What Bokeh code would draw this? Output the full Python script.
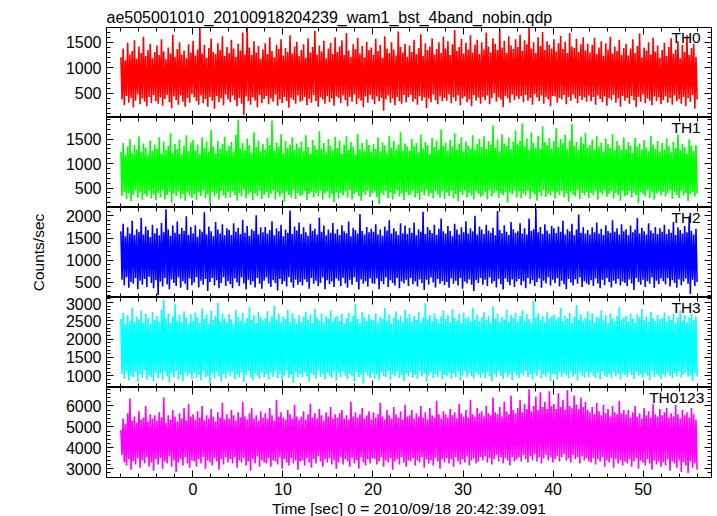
import numpy as np
from bokeh.plotting import figure
from bokeh.models import LinearAxis, Label, SingleIntervalTicker, Range1d
from bokeh.layouts import column
from bokeh.embed import file_html
from bokeh.resources import INLINE

TITLE = "ae505001010_20100918204239_wam1_bst_4band_nobin.qdp"
XLABEL = "Time [sec] 0 = 2010/09/18 20:42:39.091"
YLABEL = "Counts/sec"
T_START, T_END = -8.0, 56.0
X_RANGE = (-9.6, 57.6)

bands = ["TH0", "TH1", "TH2", "TH3", "TH0123"]
colors = ["#ff0000", "#00ff00", "#0000ff", "#00ffff", "#ff00ff"]
y_ranges = [(30, 1790), (104, 1941), (162, 2187), (680, 3137), (2582, 6880)]
y_major = [500, 500, 500, 500, 1000]
y_minor = [5, 5, 5, 5, 5]

# Each 0.25 s step of the light curve is read off the picture as the peak
# and the trough that the curve reaches inside it.
th0_hi = [
    1210, 1380, 1150, 1490, 1260, 1330, 1540, 1180, 1420, 1290, 1610, 1230, 1350, 1470, 1190, 1310,
    1440, 1250, 1560, 1320, 1170, 1400, 1280, 1650, 1220, 1370, 1500, 1260, 1340, 1190, 1460, 1300,
    1530, 1240, 1360, 1780, 1280, 1450, 1200, 1390, 1570, 1310, 1270, 1480, 1350, 1620, 1230, 1410,
    1290, 1550, 1380, 1220, 1470, 1340, 1690, 1260, 1780, 1400, 1250, 1520, 1300, 1430, 1180, 1360,
    1480, 1270, 1600, 1330, 1210, 1450, 1370, 1560, 1240, 1390, 1310, 1640, 1280, 1420, 1510, 1230,
    1350, 1460, 1200, 1580, 1300, 1410, 1720, 1260, 1440, 1320, 1530, 1190, 1380, 1490, 1270, 1600,
    1310, 1420, 1540, 1250, 1680, 1340, 1220, 1460, 1370, 1590, 1280, 1430, 1210, 1510, 1350, 1400,
    1260, 1570, 1330, 1450, 1200, 1620, 1380, 1290, 1500, 1360, 1240, 1710, 1410, 1300, 1470, 1220,
    1440, 1310, 1550, 1270, 1390, 1660, 1230, 1480, 1350, 1420, 1580, 1260, 1370, 1500, 1290, 1610,
    1380, 1520, 1250, 1460, 1740, 1330, 1410, 1570, 1280, 1490, 1360, 1640, 1300, 1450, 1550, 1270,
    1500, 1360, 1690, 1420, 1300, 1580, 1470, 1350, 1760, 1400, 1530, 1290, 1620, 1440, 1370, 1560,
    1410, 1650, 1330, 1540, 1460, 1780, 1380, 1500, 1290, 1600, 1430, 1700, 1350, 1520, 1450, 1380,
    1560, 1320, 1480, 1630, 1370, 1510, 1290, 1680, 1420, 1390, 1570, 1310, 1460, 1600, 1340, 1470,
    1300, 1450, 1590, 1270, 1400, 1520, 1230, 1480, 1360, 1610, 1280, 1420, 1330, 1550, 1250, 1390,
    1470, 1240, 1380, 1560, 1290, 1430, 1670, 1210, 1400, 1340, 1500, 1260, 1590, 1320, 1440, 1200,
    1350, 1490, 1230, 1410, 1580, 1280, 1360, 1520, 1190, 1450, 1310, 1640, 1250, 1390, 1470, 1220,
]
th0_lo = [
    380, 270, 450, 320, 410, 230, 360, 480, 290, 400, 340, 250, 430, 310, 470, 350,
    300, 420, 260, 390, 470, 330, 210, 440, 370, 280, 460, 340, 240, 410, 320, 490,
    420, 350, 280, 460, 310, 390, 240, 430, 360, 200, 450, 330, 400, 270, 480, 380,
    330, 460, 370, 250, 410, 300, 80, 440, 350, 280, 420, 360, 230, 470, 310, 390,
    450, 290, 400, 340, 480, 260, 380, 310, 430, 350, 220, 410, 370, 300, 460, 340,
    360, 430, 270, 390, 320, 470, 350, 240, 420, 380, 300, 450, 330, 400, 260, 440,
    410, 310, 460, 370, 250, 430, 340, 480, 290, 400, 360, 230, 440, 320, 470, 380,
    290, 440, 350, 410, 160, 380, 460, 320, 400, 270, 430, 350, 300, 470, 330, 420,
    470, 340, 390, 280, 450, 360, 420, 210, 400, 330, 480, 370, 290, 440, 350, 410,
    360, 480, 310, 420, 350, 460, 270, 400, 440, 330, 380, 250, 470, 360, 420, 300,
    430, 370, 460, 290, 410, 500, 340, 420, 380, 230, 450, 400, 320, 480, 370, 440,
    390, 450, 330, 470, 360, 410, 280, 490, 420, 350, 460, 300, 430, 380, 250, 450,
    440, 320, 410, 380, 470, 290, 430, 360, 480, 400, 310, 450, 370, 420, 340, 460,
    350, 430, 280, 460, 390, 330, 440, 260, 410, 370, 470, 320, 400, 240, 450, 360,
    410, 300, 450, 370, 230, 430, 340, 480, 310, 400, 360, 270, 440, 350, 420, 290,
    370, 440, 320, 410, 280, 460, 350, 390, 300, 430, 250, 410, 340, 470, 200, 380,
]
th1_hi = [
    1240, 1420, 1170, 1350, 1500, 1210, 1380, 1290, 1560, 1230, 1410, 1330, 1180, 1470, 1260, 1390,
    1310, 1540, 1200, 1450, 1280, 1360, 1620, 1220, 1400, 1300, 1490, 1190, 1370, 1580, 1250, 1430,
    1480, 1270, 1390, 1200, 1530, 1320, 1450, 1240, 1690, 1350, 1210, 1460, 1300, 1400, 1550, 1260,
    1360, 1440, 1230, 1590, 1900, 1310, 1420, 1270, 1510, 1380, 1220, 1640, 1340, 1470, 1250, 1400,
    1290, 1520, 1380, 1880, 1260, 1430, 1350, 1600, 1210, 1460, 1320, 1390, 1540, 1280, 1410, 1330,
    1450, 1250, 1580, 1340, 1200, 1480, 1370, 1290, 1660, 1310, 1420, 1230, 1500, 1360, 1270, 1550,
    1320, 1470, 1210, 1390, 1560, 1280, 1440, 1350, 1190, 1610, 1300, 1420, 1260, 1490, 1380, 1240,
    1400, 1300, 1530, 1250, 1430, 1370, 1220, 1570, 1330, 1460, 1280, 1390, 1640, 1260, 1410, 1350,
    1270, 1500, 1360, 1420, 1230, 1590, 1310, 1440, 1380, 1200, 1520, 1340, 1470, 1290, 1700, 1370,
    1430, 1260, 1480, 1350, 1620, 1290, 1410, 1540, 1240, 1450, 1370, 1310, 1580, 1280, 1400, 1500,
    1340, 1560, 1300, 1460, 1390, 1780, 1320, 1490, 1250, 1600, 1410, 1360, 1530, 1290, 1450, 1680,
    1390, 1470, 1820, 1350, 1510, 1280, 1640, 1420, 1330, 1570, 1300, 1760, 1440, 1380, 1520, 1310,
    1460, 1720, 1340, 1500, 1420, 1590, 1300, 1470, 1810, 1360, 1440, 1270, 1550, 1410, 1630, 1330,
    1380, 1490, 1280, 1560, 1350, 1430, 1240, 1510, 1400, 1320, 1600, 1270, 1460, 1370, 1290, 1540,
    1300, 1440, 1370, 1220, 1520, 1350, 1410, 1280, 1480, 1330, 1250, 1570, 1390, 1310, 1460, 1240,
    1420, 1290, 1510, 1360, 1230, 1450, 1320, 1600, 1280, 1400, 1340, 1210, 1490, 1370, 1260, 1380,
]
th1_lo = [
    340, 420, 280, 390, 230, 360, 450, 300, 410, 260, 380, 330, 440, 290, 370, 250,
    400, 310, 450, 270, 360, 420, 200, 390, 340, 430, 290, 380, 240, 410, 350, 300,
    380, 260, 410, 340, 450, 290, 370, 180, 420, 330, 390, 270, 440, 350, 300, 420,
    310, 430, 360, 240, 400, 330, 460, 290, 370, 410, 250, 390, 340, 440, 280, 360,
    420, 300, 380, 450, 270, 410, 330, 390, 220, 430, 360, 310, 450, 280, 400, 340,
    360, 440, 250, 380, 420, 310, 400, 340, 450, 260, 390, 430, 300, 370, 210, 410,
    290, 400, 350, 430, 310, 460, 270, 380, 420, 340, 240, 410, 360, 440, 320, 390,
    430, 320, 170, 400, 360, 440, 300, 410, 270, 380, 450, 330, 390, 250, 420, 350,
    370, 450, 310, 390, 260, 420, 350, 460, 330, 400, 290, 440, 370, 310, 430, 280,
    410, 340, 440, 290, 380, 230, 420, 360, 450, 310, 400, 350, 270, 430, 380, 320,
    350, 420, 270, 460, 330, 400, 440, 300, 390, 350, 420, 200, 410, 370, 450, 310,
    430, 300, 390, 350, 440, 280, 410, 370, 240, 420, 340, 460, 320, 390, 350, 430,
    290, 410, 360, 440, 310, 390, 220, 430, 370, 330, 460, 280, 400, 350, 420, 300,
    400, 350, 430, 260, 410, 370, 450, 320, 380, 430, 290, 400, 360, 240, 440, 330,
    360, 440, 310, 400, 350, 190, 420, 380, 330, 450, 300, 410, 260, 390, 430, 350,
    420, 330, 390, 450, 280, 410, 360, 300, 440, 350, 400, 230, 380, 420, 330, 390,
]
th2_hi = [
    1650, 1820, 1540, 1740, 1600, 1890, 1570, 1700, 1640, 1950, 1580, 1760, 1680, 1520, 1800, 1610,
    1720, 1560, 1840, 1630, 2150, 1690, 1550, 1780, 1620, 1870, 1590, 1730, 1660, 1990, 1570, 1750,
    1610, 1790, 1530, 1700, 1640, 2080, 1580, 1760, 1650, 1540, 1860, 1690, 1600, 1810, 1560, 1720,
    1680, 1570, 1830, 1640, 1730, 1590, 1910, 1620, 1770, 1550, 1700, 1660, 2010, 1580, 1740, 1630,
    1750, 1600, 1680, 1880, 1560, 1720, 1650, 1800, 1540, 1690, 1620, 2120, 1590, 1760, 1670, 1850,
    1590, 1740, 1630, 1550, 1820, 1660, 1710, 1580, 1960, 1640, 1780, 1560, 1690, 1620, 1840, 1600,
    1700, 1570, 1790, 1650, 1610, 1870, 1540, 1730, 1680, 1600, 2040, 1660, 1580, 1750, 1630, 1710,
    1640, 1810, 1580, 1690, 1550, 1760, 1670, 1900, 1600, 1720, 1650, 1570, 1830, 1610, 1780, 1590,
    1730, 1620, 1850, 1560, 1700, 1640, 2090, 1590, 1750, 1680, 1610, 1800, 1570, 1710, 1940, 1650,
    1600, 1770, 1660, 1540, 1820, 1690, 1580, 1740, 1630, 1880, 1600, 1720, 1650, 2000, 1580, 1760,
    1690, 1590, 1800, 1670, 1620, 1730, 1560, 2110, 1680, 1610, 1790, 1640, 1570, 1860, 1700, 1620,
    1650, 1830, 1600, 1720, 1580, 1940, 1660, 1700, 2160, 1630, 1750, 1590, 1810, 1670, 1600, 1770,
    1720, 1610, 1760, 1640, 1890, 1580, 1700, 1650, 1820, 1560, 1690, 2030, 1620, 1740, 1600, 1680,
    1580, 1740, 1630, 1850, 1600, 1710, 1570, 1790, 1660, 1620, 1900, 1640, 1720, 1580, 1810, 1650,
    1700, 1560, 1780, 1630, 1690, 1950, 1600, 1730, 1650, 1580, 1830, 1670, 1610, 1750, 1590, 1720,
    1640, 1800, 1590, 1700, 1620, 1860, 1570, 1740, 1680, 1600, 1770, 1630, 1990, 1660, 1580, 1710,
]
th2_lo = [
    560, 430, 620, 380, 510, 470, 600, 350, 540, 450, 580, 400, 630, 490, 370, 550,
    220, 520, 410, 600, 460, 350, 570, 490, 420, 610, 380, 530, 470, 330, 590, 440,
    500, 620, 390, 540, 450, 580, 310, 510, 600, 430, 550, 370, 490, 620, 420, 530,
    460, 370, 590, 500, 420, 610, 480, 340, 560, 450, 520, 390, 600, 470, 360, 540,
    610, 480, 400, 550, 490, 320, 580, 460, 530, 410, 620, 500, 380, 560, 450, 510,
    430, 570, 510, 360, 600, 470, 540, 420, 490, 610, 350, 550, 460, 520, 400, 590,
    540, 420, 600, 480, 380, 560, 450, 620, 510, 340, 570, 470, 530, 410, 590, 480,
    470, 590, 350, 530, 460, 610, 400, 550, 490, 430, 600, 370, 520, 480, 560, 420,
    600, 460, 520, 410, 570, 490, 330, 560, 450, 610, 500, 390, 580, 470, 530, 440,
    510, 380, 590, 470, 540, 430, 600, 360, 520, 480, 570, 450, 310, 550, 490, 600,
    450, 560, 420, 610, 480, 530, 390, 580, 460, 340, 590, 510, 440, 570, 400, 520,
    580, 440, 530, 370, 600, 470, 550, 420, 510, 590, 380, 540, 480, 620, 430, 560,
    490, 600, 410, 540, 460, 350, 580, 500, 430, 570, 470, 610, 400, 530, 480, 450,
    550, 420, 590, 480, 370, 560, 440, 600, 510, 390, 540, 470, 580, 430, 520, 490,
    420, 570, 480, 330, 600, 510, 450, 560, 400, 530, 470, 610, 380, 540, 460, 590,
    530, 460, 600, 410, 550, 490, 380, 570, 440, 520, 590, 470, 240, 560, 420, 510,
]
th3_hi = [
    2550, 2720, 2430, 2650, 2500, 2860, 2470, 2610, 2540, 2780, 2450, 2690, 2580, 2420, 2740, 2520,
    2630, 2480, 2810, 3080, 2560, 2700, 2440, 2620, 2950, 2510, 2670, 2460, 2760, 2590, 2430, 2680,
    2500, 2730, 2600, 2450, 2840, 2560, 2680, 2420, 2770, 2530, 2640, 2990, 2490, 2710, 2570, 2460,
    2690, 2540, 2430, 2800, 2610, 2500, 2720, 2450, 2580, 2870, 2520, 2650, 2440, 2740, 2600, 2510,
    2580, 2770, 2490, 2640, 2910, 2530, 2690, 2460, 2620, 2550, 2800, 2470, 2700, 2560, 2430, 2660,
    2470, 2620, 2750, 2520, 2680, 2440, 2830, 2590, 2510, 2700, 2460, 2640, 2560, 2780, 2490, 2600,
    2640, 2510, 2690, 2430, 2580, 2720, 2480, 2630, 2960, 2550, 2450, 2740, 2600, 2500, 2670, 2540,
    2520, 2700, 2460, 2610, 2550, 2850, 2500, 2680, 2430, 2590, 2760, 2520, 2640, 2470, 2800, 2570,
    2690, 2480, 2630, 2520, 2740, 2450, 2600, 2980, 2540, 2660, 2490, 2710, 2560, 2440, 2620, 2780,
    2550, 2650, 2470, 2820, 2580, 2500, 2690, 2440, 2730, 2570, 2620, 2480, 2860, 2530, 2670, 2500,
    2600, 2750, 2520, 2640, 2440, 2890, 2560, 2690, 2480, 2610, 2540, 2800, 2470, 2660, 2580, 2720,
    2480, 2630, 2780, 2500, 2680, 2550, 2450, 3050, 2590, 2700, 2520, 2640, 2460, 2750, 2570, 2620,
    2670, 2540, 2600, 2850, 2490, 2640, 2560, 2720, 2450, 2610, 2930, 2530, 2680, 2500, 2590, 2760,
    2530, 2710, 2460, 2620, 2580, 2790, 2510, 2650, 2440, 2700, 2560, 2480, 2630, 2870, 2520, 2600,
    2640, 2490, 2700, 2560, 2450, 2680, 2600, 2830, 2520, 2620, 2470, 2740, 2580, 2500, 2660, 2540,
    2580, 2730, 2480, 2640, 2520, 2690, 2440, 2600, 2780, 2510, 2650, 2460, 2590, 2700, 2530, 2610,
]
th3_lo = [
    1050, 920, 1120, 870, 1000, 960, 1100, 830, 1040, 940, 1150, 890, 1010, 970, 850, 1080,
    930, 1060, 880, 1110, 990, 820, 1070, 950, 1130, 900, 1020, 860, 1090, 980, 1040, 910,
    1080, 940, 1030, 870, 1140, 960, 1000, 790, 1060, 920, 1110, 980, 850, 1050, 930, 1070,
    990, 1120, 900, 1040, 960, 1090, 840, 1010, 1130, 950, 880, 1060, 1000, 920, 1100, 970,
    1030, 890, 1080, 970, 1120, 930, 1050, 860, 1000, 1140, 940, 1020, 800, 1090, 960, 1040,
    950, 1100, 980, 830, 1060, 1010, 920, 1130, 970, 1040, 890, 1080, 1000, 940, 1110, 870,
    1070, 960, 1120, 1000, 910, 1050, 990, 850, 1100, 960, 1030, 780, 1080, 1010, 940, 1060,
    920, 1040, 870, 1090, 1000, 960, 1130, 900, 1050, 990, 1110, 940, 1020, 860, 1070, 980,
    1100, 950, 1030, 910, 1120, 980, 1060, 840, 1010, 1090, 930, 1050, 970, 1130, 900, 1020,
    980, 1080, 920, 1040, 960, 1110, 870, 1000, 1140, 950, 1060, 990, 910, 1070, 1030, 940,
    1060, 930, 1090, 990, 850, 1050, 970, 1120, 1000, 910, 1080, 960, 1040, 880, 1100, 1010,
    940, 1070, 1010, 1130, 960, 1040, 890, 1080, 1000, 1150, 930, 1020, 970, 1090, 860, 1050,
    1030, 900, 1100, 970, 1060, 1010, 930, 1120, 980, 1040, 870, 1080, 1000, 950, 1110, 960,
    1090, 1000, 940, 1070, 890, 1120, 1010, 960, 1050, 930, 1100, 980, 1040, 900, 1060, 1020,
    970, 1080, 1020, 910, 1110, 990, 1050, 940, 1070, 1000, 880, 1130, 960, 1040, 1010, 920,
    1040, 960, 1100, 1000, 930, 1060, 980, 1120, 950, 1030, 1090, 970, 1010, 860, 1070, 990,
]
th0123_hi = [
    4850, 5400, 5150, 5650, 6350, 5300, 5500, 5200, 5750, 5350, 5450, 6000, 5250, 5600, 5400, 5550,
    5300, 5700, 5450, 6400, 5200, 5550, 5350, 5800, 5500, 5250, 5650, 5400, 5900, 5300, 6100, 5500,
    5600, 5350, 5750, 5450, 6000, 5300, 5550, 5400, 5850, 5500, 5250, 5700, 5450, 6150, 5350, 5600,
    5400, 5800, 5550, 5300, 5700, 5450, 6200, 5500, 5350, 5650, 5900, 5400, 5550, 5300, 5750, 5450,
    5650, 5400, 5900, 5550, 5300, 6300, 5500, 5700, 5450, 5350, 5800, 5600, 5400, 6050, 5500, 5350,
    5500, 5750, 5350, 5600, 6100, 5450, 5650, 5400, 5850, 5550, 5300, 5700, 5500, 5950, 5400, 5600,
    5450, 5650, 5800, 5400, 5550, 5350, 6200, 5500, 5700, 5450, 5600, 5900, 5400, 5550, 5750, 5350,
    5700, 5450, 5600, 6150, 5500, 5350, 5800, 5550, 5400, 5950, 5600, 5450, 5750, 5350, 6050, 5500,
    5550, 5800, 5400, 5650, 5500, 6000, 5450, 5700, 5350, 5900, 5550, 5450, 6250, 5600, 5400, 5750,
    5600, 5450, 5850, 5550, 5700, 5400, 6100, 5650, 5500, 5800, 5450, 6300, 5600, 5500, 5900, 5650,
    5750, 5500, 6000, 5650, 5550, 6400, 5700, 5600, 5950, 5500, 6200, 5750, 5600, 6500, 5800, 5650,
    5900, 6300, 5700, 6100, 5850, 6800, 5750, 6000, 6450, 5800, 6650, 5950, 6200, 5850, 6700, 6000,
    6100, 5850, 6600, 5950, 6300, 5800, 6750, 6000, 5900, 6500, 6050, 5850, 6400, 5950, 6200, 5800,
    5700, 5950, 5600, 6150, 5750, 5550, 6050, 5650, 5850, 5500, 6000, 5700, 5600, 6250, 5650, 5800,
    5600, 5800, 5450, 5700, 6000, 5500, 5650, 5400, 5900, 5550, 5750, 5450, 6100, 5600, 5500, 5850,
    5550, 5700, 5900, 5450, 5650, 5500, 6050, 5600, 5400, 5800, 5550, 5700, 5450, 5900, 5600, 5350,
]
th0123_lo = [
    3650, 3300, 3150, 3450, 2950, 3350, 3200, 3500, 3050, 3400, 3250, 3550, 3100, 3300, 2900, 3450,
    3200, 3500, 3000, 3350, 3250, 3600, 3100, 3400, 2850, 3300, 3450, 3150, 3550, 3250, 3050, 3400,
    3350, 3100, 3450, 3250, 3550, 3000, 3400, 3300, 3150, 3500, 3350, 2950, 3450, 3200, 3550, 3300,
    3450, 3250, 3550, 3050, 3400, 3300, 3500, 3150, 3350, 2900, 3450, 3250, 3600, 3100, 3400, 3300,
    3250, 3500, 3100, 3400, 3350, 3200, 3550, 3000, 3450, 3300, 3150, 3500, 3250, 3400, 2950, 3350,
    3400, 3150, 3500, 3300, 3050, 3450, 3250, 3600, 3350, 3100, 3450, 3300, 3500, 3200, 3400, 3000,
    3300, 3550, 3200, 3450, 3350, 3100, 3500, 3250, 3400, 3000, 3550, 3300, 3150, 3450, 3250, 3500,
    3450, 3200, 3350, 3550, 3100, 3400, 3300, 3500, 2950, 3350, 3450, 3200, 3550, 3300, 3100, 3400,
    3350, 3500, 3150, 3400, 3300, 3550, 3050, 3450, 3250, 3400, 3150, 3500, 3350, 3000, 3450, 3300,
    3500, 3250, 3450, 3100, 3550, 3350, 3200, 3450, 3300, 3600, 3150, 3400, 3500, 3250, 3350, 3550,
    3400, 3600, 3300, 3500, 3200, 3450, 3650, 3350, 3550, 3250, 3500, 3400, 3150, 3550, 3350, 3450,
    3550, 3350, 3650, 3450, 3300, 3600, 3400, 3700, 3350, 3550, 3250, 3500, 3650, 3400, 3550, 3300,
    3450, 3600, 3350, 3550, 3700, 3400, 3500, 3300, 3650, 3450, 3550, 3250, 3600, 3400, 3500, 3350,
    3300, 3500, 3200, 3450, 3350, 3550, 3100, 3400, 3300, 3500, 3050, 3450, 3250, 3400, 3150, 3350,
    3250, 3450, 3100, 3350, 3500, 3000, 3400, 3300, 3150, 3450, 3250, 2950, 3400, 3200, 3350, 3100,
    3300, 3150, 3450, 2900, 3350, 3250, 3050, 3400, 2850, 3300, 3150, 2800, 3350, 3050, 3250, 2950,
]
series_hi = [th0_hi, th1_hi, th2_hi, th3_hi, th0123_hi]
series_lo = [th0_lo, th1_lo, th2_lo, th3_lo, th0123_lo]

FONT = "Liberation Sans"
FS_TICK = "16px"
FS_TEXT = "15.5px"

x_range = Range1d(*X_RANGE)
figs = []
n = len(bands)


def style(ax, labels):
    ax.major_tick_in = 7
    ax.major_tick_out = 0
    ax.minor_tick_in = 4
    ax.minor_tick_out = 0
    ax.axis_line_color = "black"
    ax.major_tick_line_color = "black"
    ax.minor_tick_line_color = "black"
    if labels:
        ax.major_label_text_font = FONT
        ax.major_label_text_font_size = FS_TICK
        ax.major_label_text_color = "black"
        ax.major_label_standoff = 5
    else:
        ax.major_label_text_font_size = "0px"
        ax.major_label_text_color = None
        ax.major_label_standoff = 0


def label_style(ax, text, standoff):
    ax.axis_label = text
    ax.axis_label_text_font = FONT
    ax.axis_label_text_font_size = FS_TEXT
    ax.axis_label_text_font_style = "normal"
    ax.axis_label_text_color = "black"
    ax.axis_label_standoff = standoff


for i, (name, col, yr, ymaj, ymin, hi, lo) in enumerate(
        zip(bands, colors, y_ranges, y_major, y_minor, series_hi, series_lo)):
    top = i == 0
    bottom = i == n - 1
    p = figure(frame_width=605, frame_height=90, x_range=x_range,
               y_range=Range1d(*yr), output_backend="svg", toolbar_location=None,
               x_axis_location=None, y_axis_location=None,
               min_border_left=106, min_border_right=6,
               min_border_top=27 if top else 0, min_border_bottom=0)
    p.grid.visible = False
    p.outline_line_color = "black"
    p.background_fill_color = "white"
    p.border_fill_color = "white"

    vals = np.empty(2 * len(hi))
    vals[0::2] = hi
    vals[1::2] = lo
    t = np.linspace(T_START, T_END, len(vals))
    p.line(t, vals, line_color=col, line_width=1.6)

    xt = SingleIntervalTicker(interval=10, num_minor_ticks=5)
    yt = SingleIntervalTicker(interval=ymaj, num_minor_ticks=ymin)
    left = LinearAxis(ticker=yt)
    style(left, True)
    if i == 2:
        label_style(left, YLABEL, 16)
    right = LinearAxis(ticker=yt)
    style(right, False)
    above = LinearAxis(ticker=xt)
    style(above, False)
    below = LinearAxis(ticker=xt)
    style(below, bottom)
    if bottom:
        below.major_label_standoff = 5
        label_style(below, XLABEL, 2)
    p.add_layout(left, "left")
    p.add_layout(right, "right")
    p.add_layout(above, "above")
    p.add_layout(below, "below")

    if top:
        p.title.text = TITLE
        p.title.text_font = FONT
        p.title.text_font_size = FS_TICK
        p.title.text_font_style = "normal"
        p.title.text_color = "black"
        p.title.align = "left"
        p.title.standoff = 4

    span = yr[1] - yr[0]
    lx = 56.4 if name != "TH0123" else 56.8
    p.add_layout(Label(x=lx, y=yr[1] - span * 1.0 / 90, text=name,
                       text_align="right", text_baseline="top",
                       text_font=FONT, text_font_size=FS_TEXT, text_color="black"))
    figs.append(p)

layout = column(*figs, spacing=0, margin=(0, 0, -12, 0))
open("out.html", "w").write(file_html(layout, INLINE))
